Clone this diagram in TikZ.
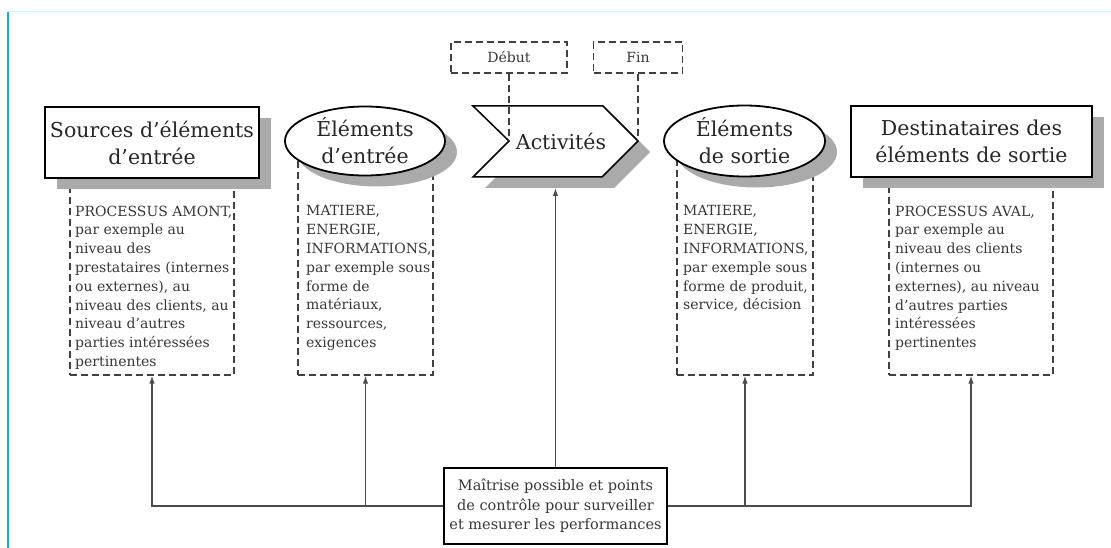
\documentclass[tikz,border=0pt]{standalone}
\usepackage{fontspec}
\setmainfont{DejaVu Serif}
\usetikzlibrary{arrows.meta,shapes.geometric,shadows,fit}
\definecolor{edgeblue}{HTML}{16A9E8}
\definecolor{topcyan}{HTML}{CFF2FC}
\definecolor{txtgray}{HTML}{383838}
\definecolor{shadegray}{HTML}{AAAAAA}
\begin{document}
\begin{tikzpicture}[x=1pt,y=-1pt,
  myshadow/.style={drop shadow={shadow xshift=12pt,shadow yshift=-11pt,fill=shadegray,opacity=1,draw=none}},
  titlefont/.style={font=\fontsize{20.5}{27}\selectfont, text=black!85},
  tbox/.style={draw=black, line width=1.8pt, fill=white, inner sep=0pt, align=center, titlefont, myshadow},
  ellbox/.style={ellipse, draw=black, line width=1.8pt, fill=white, inner sep=0pt, align=center, titlefont, myshadow},
  dbox/.style={draw=black!75, line width=1.3pt, dash pattern=on 7pt off 4pt, inner sep=0pt},
  bodytext/.style={anchor=north west, inner sep=0pt, align=left, text=txtgray, font=\fontsize{14}{18.8}\selectfont},
  smalltag/.style={dbox, font=\fontsize{14}{16}\selectfont, text=txtgray},
  conn/.style={draw=black!70, line width=1.3pt},
  arr/.style={conn, -{Latex[length=8pt,width=5.5pt]}},
  cbox/.style={draw=black, line width=1.8pt, fill=white, inner sep=0pt, align=center, text=txtgray, font=\fontsize{14.5}{19.5}\selectfont}
]
\useasboundingbox (0,0) rectangle (1111,548);
\fill[white] (0,0) rectangle (1111,548);
\draw[topcyan, line width=1pt] (8,12) -- (1111,12);
\fill[edgeblue] (6.8,12) rectangle (9.2,548);

% dashed text boxes
\node[dbox, fit={(70,175) (234,375)}] (d1) {};
\node[dbox, fit={(298,150) (433,375)}] (d2) {};
\node[dbox, fit={(677,150) (813,375)}] (d4) {};
\node[dbox, fit={(889,175) (1053,375)}] (d5) {};

% title shapes
\node[tbox, minimum width=214pt, minimum height=71pt] (src) at (152,142.5) {Sources d’éléments\\d’entrée};
\node[ellbox, minimum width=160pt, minimum height=69pt] (ein) at (365,141) {Éléments\\d’entrée};
\node[ellbox, minimum width=161pt, minimum height=71pt] (eout) at (744.5,141) {Éléments\\de sortie};
\node[tbox, minimum width=241pt, minimum height=71pt] (dest) at (971.5,141.5) {Destinataires des\\éléments de sortie};

% activities chevron
\coordinate (notch) at (509,141);
\coordinate (tip) at (638,141);
\coordinate (actbot) at (555.5,188);
\draw[black, line width=1.5pt, fill=white, line join=miter, myshadow]
  (473,106) -- (603,106) -- (tip) -- (602,177) -- (473,177) -- (notch) -- cycle;
\node[titlefont, inner sep=0pt] (act) at (561,141) {Activités};

% start / end tags
\node[smalltag, minimum width=116pt, minimum height=31pt] (debut) at (509,57.5) {Début};
\node[smalltag, minimum width=89pt, minimum height=31pt] (fin) at (638,57.5) {Fin};
\draw[dbox] (debut.south) -- (notch);
\draw[dbox] (fin.south) -- (tip);

% body texts
\node[bodytext] (t1) at (75,205.5) {PROCESSUS AMONT,\\par exemple au\\niveau des\\prestataires (internes\\ou externes), au\\niveau des clients, au\\niveau d’autres\\parties intéressées\\pertinentes};
\node[bodytext] (t2) at (306,205.5) {MATIERE,\\ENERGIE,\\INFORMATIONS,\\par exemple sous\\forme de\\matériaux,\\ressources,\\exigences};
\node[bodytext] (t4) at (683,205.5) {MATIERE,\\ENERGIE,\\INFORMATIONS,\\par exemple sous\\forme de produit,\\service, décision};
\node[bodytext] (t5) at (895,205.5) {PROCESSUS AVAL,\\par exemple au\\niveau des clients\\(internes ou\\externes), au niveau\\d’autres parties\\intéressées\\pertinentes};

% control box and connectors
\node[cbox, minimum width=223pt, minimum height=76pt] (ctrl) at (555.5,506) {Maîtrise possible et points\\de contrôle pour surveiller\\et mesurer les performances};
\draw[arr] (ctrl.west) -| (d1.south);
\draw[arr] (ctrl.west) -| (d2.south);
\draw[arr] (ctrl.east) -| (d4.south);
\draw[arr] (ctrl.east) -| (d5.south);
\draw[arr] (ctrl.north) -- (actbot);
\end{tikzpicture}
\end{document}
